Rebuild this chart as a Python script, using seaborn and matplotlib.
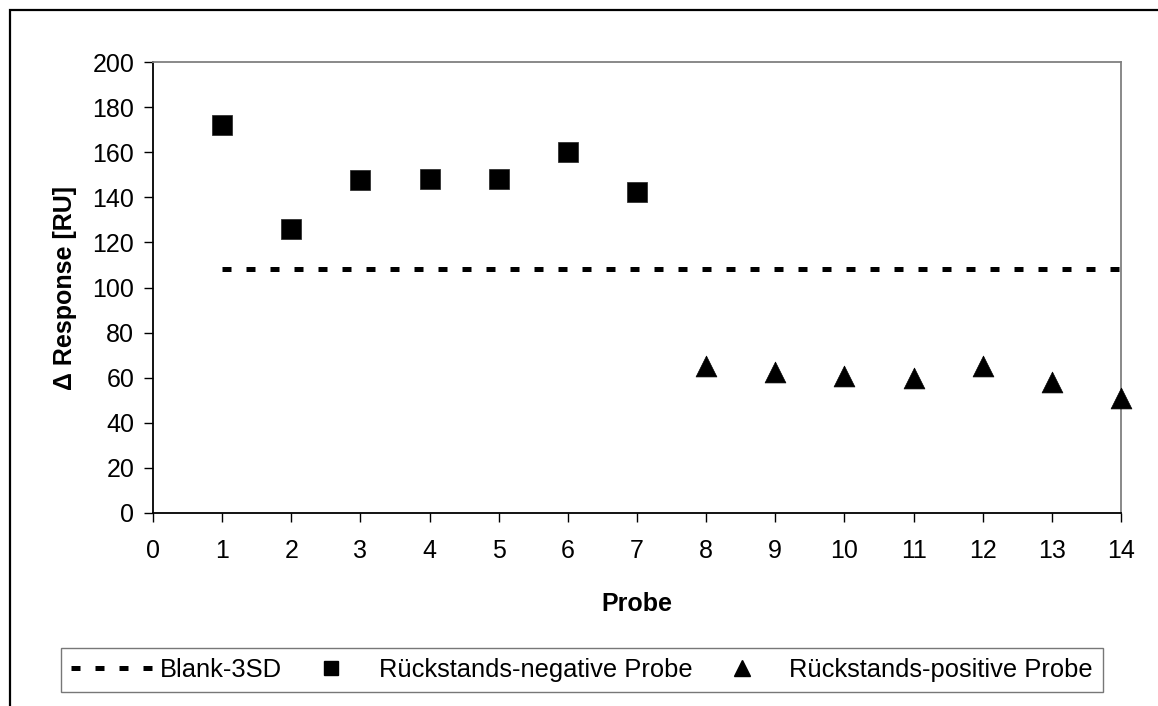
import matplotlib
matplotlib.use("Agg")
import matplotlib.pyplot as plt
from matplotlib.lines import Line2D
from matplotlib.patches import Rectangle
import seaborn as sns
import pandas as pd

# Sample numbers and measured response differences
neg_probe = [1, 2, 3, 4, 5, 6, 7]
neg_response = [172, 126, 147.6, 148.3, 148.3, 160, 142.2]

pos_probe = [8, 9, 10, 11, 12, 13, 14]
pos_response = [65.2, 62.6, 60.8, 59.9, 65.2, 58.2, 51.0]

# Threshold: blank mean minus three standard deviations
blank_probe = [1, 14]
blank_value = [108, 108]

x_ticks = list(range(0, 15))
y_ticks = list(range(0, 201, 20))

label_neg = "Rückstands-negative Probe"
label_pos = "Rückstands-positive Probe"
label_blank = "Blank-3SD"

sns.set_theme(style="white")
plt.rcParams["font.family"] = ["Liberation Sans", "DejaVu Sans"]
plt.rcParams["text.color"] = "black"
plt.rcParams["axes.labelcolor"] = "black"

fig = plt.figure(figsize=(11.58, 7.06), dpi=100)
ax = fig.add_axes([153 / 1158, 1 - 513 / 706, (1121 - 153) / 1158, (513 - 62) / 706])

df_neg = pd.DataFrame({"Probe": neg_probe, "Response": neg_response})
df_pos = pd.DataFrame({"Probe": pos_probe, "Response": pos_response})
df_blank = pd.DataFrame({"Probe": blank_probe, "Response": blank_value})

dash_style = (0, (1.8, 3.0))
sns.lineplot(data=df_blank, x="Probe", y="Response", ax=ax, color="black",
             linewidth=3.6, linestyle=dash_style, zorder=3)
sns.scatterplot(data=df_neg, x="Probe", y="Response", ax=ax, marker="s",
                s=13.9 ** 2, color="black", edgecolor="#222222", linewidth=0.5,
                zorder=4, clip_on=False)
sns.scatterplot(data=df_pos, x="Probe", y="Response", ax=ax, marker="^",
                s=15.0 ** 2, color="black", edgecolor="black", linewidth=0.5,
                zorder=4, clip_on=False)

ax.set_xlim(0, 14)
ax.set_ylim(0, 200)
ax.set_xticks(x_ticks)
ax.set_yticks(y_ticks)
ax.tick_params(axis="both", which="major", labelsize=18, colors="black",
               direction="out", length=6.5, width=1.0, bottom=True, left=True)
ax.tick_params(axis="x", pad=12)
ax.tick_params(axis="y", pad=7)

ax.set_xlabel("Probe", fontsize=18, fontweight="bold", labelpad=21,
              color="black")
ax.set_ylabel("Δ Response [RU]", fontsize=18, fontweight="bold", labelpad=11,
              color="black")

for side in ("left", "bottom"):
    ax.spines[side].set_color("black")
    ax.spines[side].set_linewidth(1.3)
for side in ("top", "right"):
    ax.spines[side].set_color("#808080")
    ax.spines[side].set_linewidth(1.3)
ax.grid(False)
ax.set_facecolor("white")

handles = [
    Line2D([], [], color="black", linewidth=3.6, linestyle=dash_style),
    Line2D([], [], color="black", marker="s", markersize=10.5, linestyle="none"),
    Line2D([], [], color="black", marker="^", markersize=12, linestyle="none"),
]
leg = fig.legend(handles, [label_blank, label_neg, label_pos], ncol=3,
                 loc="lower left", bbox_to_anchor=(61 / 1158, 1 - 692 / 706),
                 bbox_transform=fig.transFigure, borderaxespad=0,
                 prop={"size": 18.4}, handlelength=3.2, handletextpad=0.25,
                 columnspacing=0.35, borderpad=0.4, frameon=True,
                 fancybox=False, edgecolor="#555555")
leg.get_frame().set_linewidth(1.0)
for txt in leg.get_texts():
    txt.set_color("black")

# Outer chart border, open on the right and bottom
fig.add_artist(Rectangle((10 / 1158, -0.2), 1.2, 1 - 10 / 706 + 0.2,
                         transform=fig.transFigure, fill=False,
                         edgecolor="black", linewidth=1.6, clip_on=False))

fig.savefig("out.png", dpi=100, facecolor="white")
